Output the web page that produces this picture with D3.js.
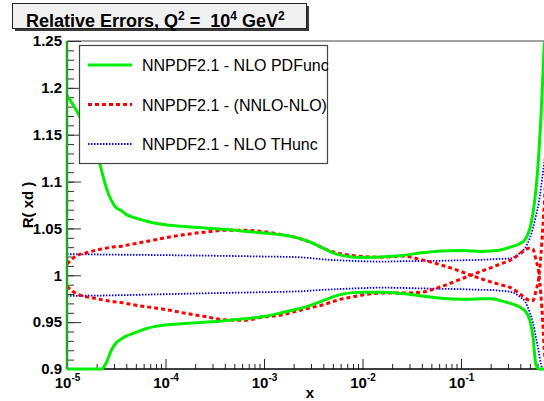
<!DOCTYPE html>
<html>
<head>
<meta charset="utf-8">
<script src="https://cdn.jsdelivr.net/npm/d3@7"></script>
<style>
  html, body { margin: 0; padding: 0; background: #fff; }
  svg { display: block; }
  text { font-family: "Liberation Sans", Arial, Helvetica, sans-serif; }
</style>
</head>
<body>
<svg id="chart" width="544" height="401"></svg>
<script>
// ---------------- data ----------------
const xs = [1.0e-5, 1.26e-5, 1.58e-5, 2.0e-5, 2.24e-5, 2.51e-5, 2.82e-5, 3.16e-5, 3.55e-5, 3.98e-5,
            5.01e-5, 6.31e-5, 7.94e-5, 1e-4, 1.58e-4, 2.51e-4, 3.98e-4, 6.31e-4, 1e-3, 1.58e-3,
            2.0e-3, 2.51e-3, 3.16e-3, 3.98e-3, 5.01e-3, 6.31e-3, 7.94e-3, 1e-2, 1.58e-2, 2.51e-2,
            3.98e-2, 6.31e-2, 0.1, 0.126, 0.158, 0.2, 0.251, 0.316, 0.398, 0.447,
            0.501, 0.537, 0.575, 0.617, 0.646, 0.676, 0.708, 0.759, 0.832];

const pdfUp = [1.192, 1.175, 1.155, 1.132, 1.112, 1.093, 1.080, 1.072, 1.069, 1.065,
               1.061, 1.058, 1.0555, 1.054, 1.052, 1.0505, 1.049, 1.047, 1.045, 1.043,
               1.041, 1.038, 1.034, 1.029, 1.024, 1.021, 1.0195, 1.019, 1.0195, 1.021,
               1.024, 1.026, 1.0265, 1.026, 1.0255, 1.026, 1.027, 1.030, 1.034, 1.038,
               1.050, 1.066, 1.090, 1.130, 1.165, 1.210, 1.255, 1.33, 1.45];
const pdfDn = [0.808, 0.825, 0.845, 0.868, 0.888, 0.907, 0.920, 0.928, 0.932, 0.935,
               0.939, 0.943, 0.9455, 0.947, 0.9485, 0.950, 0.9515, 0.9535, 0.956, 0.9605,
               0.963, 0.9655, 0.969, 0.973, 0.977, 0.980, 0.9815, 0.982, 0.982, 0.9805,
               0.978, 0.9755, 0.9745, 0.9745, 0.975, 0.975, 0.973, 0.970, 0.966, 0.962,
               0.952, 0.935, 0.905, 0.870, 0.835, 0.79, 0.745, 0.67, 0.55];

const nnloUp = [1.012, 1.021, 1.024, 1.027, 1.028, 1.029, 1.030, 1.0305, 1.031, 1.032,
                1.034, 1.036, 1.038, 1.040, 1.0435, 1.046, 1.048, 1.048, 1.0465, 1.043,
                1.041, 1.038, 1.034, 1.029, 1.025, 1.0225, 1.021, 1.020, 1.0192, 1.0205,
                1.0165, 1.011, 1.004, 1.000, 0.9965, 0.993, 0.990, 0.987, 0.980, 0.976,
                0.973, 0.973, 0.983, 0.998, 1.020, 1.050, 1.085, 1.14, 1.22];
const nnloDn = [0.988, 0.980, 0.977, 0.975, 0.974, 0.973, 0.972, 0.9715, 0.971, 0.970,
                0.968, 0.9665, 0.965, 0.9635, 0.9595, 0.956, 0.9525, 0.952, 0.9555, 0.958,
                0.961, 0.9635, 0.966, 0.9685, 0.972, 0.975, 0.977, 0.979, 0.981, 0.981,
                0.982, 0.988, 0.996, 1.000, 1.004, 1.008, 1.012, 1.016, 1.023, 1.027,
                1.029, 1.028, 1.017, 1.002, 0.980, 0.950, 0.915, 0.86, 0.78];

const thUp = [1.0225, 1.0224, 1.0223, 1.0222, 1.0221, 1.0221, 1.022, 1.022, 1.0219, 1.0219,
              1.0218, 1.0217, 1.0216, 1.0215, 1.0212, 1.021, 1.0207, 1.0204, 1.020, 1.0197,
              1.0195, 1.019, 1.018, 1.017, 1.0163, 1.0158, 1.0153, 1.015, 1.0146, 1.015,
              1.0153, 1.0155, 1.016, 1.0162, 1.0165, 1.017, 1.0175, 1.018, 1.024, 1.029,
              1.040, 1.050, 1.063, 1.078, 1.092, 1.108, 1.125, 1.16, 1.22];
const thDn = [0.978, 0.9781, 0.9782, 0.9783, 0.9784, 0.9785, 0.9786, 0.9787, 0.9788, 0.9789,
              0.9791, 0.9794, 0.9796, 0.9798, 0.9803, 0.9808, 0.9812, 0.9816, 0.982, 0.9824,
              0.9827, 0.983, 0.9838, 0.9845, 0.985, 0.9855, 0.9859, 0.9863, 0.9868, 0.9865,
              0.986, 0.9856, 0.9852, 0.9848, 0.9845, 0.9843, 0.9835, 0.9825, 0.977, 0.972,
              0.960, 0.950, 0.934, 0.918, 0.906, 0.892, 0.876, 0.84, 0.78];

const yMajor = [0.9, 0.95, 1.0, 1.05, 1.1, 1.15, 1.2, 1.25];
const yMajorLabels = ["0.9", "0.95", "1", "1.05", "1.1", "1.15", "1.2", "1.25"];
const xDecades = [1e-5, 1e-4, 1e-3, 1e-2, 1e-1];
const xDecadeExps = ["-5", "-4", "-3", "-2", "-1"];

const legendLabels = ["NNPDF2.1 - NLO PDFunc", "NNPDF2.1 - (NNLO-NLO)", "NNPDF2.1 - NLO THunc"];
const titleParts = [["Relative Errors, Q", false], ["2", true], [" =  10", false], ["4", true], [" GeV", false], ["2", true]];

// ---------------- drawing ----------------
const svg = d3.select("#chart");
const L = 67, R = 559.5, T = 41, B = 369;

const x = d3.scaleLog().domain([1e-5, 1]).range([L, R]).clamp(true);
const y = d3.scaleLinear().domain([0.9, 1.25]).range([B, T]).clamp(true);

// title box
svg.append("rect").attr("x", 15).attr("y", 6).attr("width", 294).attr("height", 25).attr("fill", "#3a3a3a");
svg.append("rect").attr("x", 12.5).attr("y", 3.5).attr("width", 294).attr("height", 25)
   .attr("fill", "#f0f0f0").attr("stroke", "#222").attr("stroke-width", 1);
const title = svg.append("text").attr("x", 26).attr("y", 26.5).attr("font-size", 18)
   .attr("font-weight", "bold").attr("fill", "#000").attr("xml:space", "preserve");
let prevSup = false;
titleParts.forEach(([t, sup]) => {
  const ts = title.append("tspan").text(t);
  if (sup) { ts.attr("font-size", 12).attr("dy", prevSup ? 0 : -7); }
  else { ts.attr("dy", prevSup ? 7 : 0); }
  prevSup = sup;
});

// frame top
svg.append("line").attr("x1", L).attr("x2", 560).attr("y1", T).attr("y2", T).attr("stroke", "#444").attr("stroke-width", 1.2);

// y axis minor + major ticks
const yMinor = d3.range(0.9, 1.2501, 0.01).map(v => +v.toFixed(2));
svg.append("g").attr("transform", `translate(${L},0)`)
   .call(d3.axisLeft(y).tickValues(yMinor).tickSize(-7).tickFormat(""))
   .call(g => g.select(".domain").remove())
   .call(g => g.selectAll("line").attr("stroke", "#333"));
const yAx = svg.append("g").attr("transform", `translate(${L},0)`)
   .call(d3.axisLeft(y).tickValues(yMajor).tickSize(-14).tickPadding(5)
         .tickFormat((d, i) => yMajorLabels[i]))
   .call(g => g.select(".domain").remove());
yAx.selectAll("line").attr("stroke", "#333");
yAx.selectAll("text").attr("font-size", 15).attr("font-weight", "bold").attr("fill", "#000")
   .attr("font-family", '"Liberation Sans", Arial, sans-serif');

// x axis minor + major ticks
const xMinor = [];
[1e-5, 1e-4, 1e-3, 1e-2, 1e-1].forEach(d => { for (let k = 2; k <= 9; k++) xMinor.push(+(d * k).toPrecision(3)); });
svg.append("g").attr("transform", `translate(0,${B})`)
   .call(d3.axisBottom(x).tickValues(xMinor).tickSize(-5).tickFormat(""))
   .call(g => g.select(".domain").remove())
   .call(g => g.selectAll("line").attr("stroke", "#222"));
const xAx = svg.append("g").attr("transform", `translate(0,${B})`)
   .call(d3.axisBottom(x).tickValues(xDecades).tickSize(-10).tickFormat(""))
   .call(g => g.select(".domain").remove());
xAx.selectAll("line").attr("stroke", "#222");
xAx.selectAll(".tick").each(function(d, i) {
  const t = d3.select(this).append("text").attr("y", 19).attr("text-anchor", "middle")
     .attr("font-size", 15).attr("font-weight", "bold").attr("fill", "#000")
     .attr("font-family", '"Liberation Sans", Arial, sans-serif');
  t.append("tspan").text("10");
  t.append("tspan").attr("font-size", 10).attr("dy", -7).text(xDecadeExps[i]);
});

// bottom axis line
svg.append("line").attr("x1", L).attr("x2", 560).attr("y1", B).attr("y2", B).attr("stroke", "#000").attr("stroke-width", 1.5);

// axis titles
svg.append("text").attr("x", 310).attr("y", 398).attr("text-anchor", "middle")
   .attr("font-size", 15).attr("font-weight", "bold").text("x");
svg.append("text").attr("transform", "translate(33,205) rotate(-90)").attr("text-anchor", "middle")
   .attr("font-size", 15).attr("font-weight", "bold").text("R( xd )");

// curves
const series = [
  { up: pdfUp, dn: pdfDn, color: "#00ee00", width: 3, dash: null },
  { up: nnloUp, dn: nnloDn, color: "#ff0000", width: 3, dash: "4,3" },
  { up: thUp, dn: thDn, color: "#0000ff", width: 1.8, dash: "1.5,1.5" }
];
const clip = svg.append("defs").append("clipPath").attr("id", "plotclip");
clip.append("rect").attr("x", L - 3).attr("y", T - 2).attr("width", R - L + 5).attr("height", B - T + 4);
const plot = svg.append("g").attr("clip-path", "url(#plotclip)");
const line = d3.line().x(d => x(d[0])).y(d => y(d[1])).curve(d3.curveMonotoneX);

// left frame (overdrawn green in reference)
svg.append("line").attr("x1", L).attr("x2", L).attr("y1", T).attr("y2", B).attr("stroke", "#22a322").attr("stroke-width", 2.4);

series.slice().reverse().forEach(s => {
  [s.up, s.dn].forEach(arr => {
    plot.append("path").datum(xs.map((xv, i) => [xv, arr[i]]))
      .attr("d", line).attr("fill", "none").attr("stroke", s.color)
      .attr("stroke-width", s.width).attr("stroke-dasharray", s.dash);
  });
});

// legend
const lg = svg.append("g");
lg.append("rect").attr("x", 79.5).attr("y", 45.5).attr("width", 248).attr("height", 118)
  .attr("fill", "#fff").attr("stroke", "#444").attr("stroke-width", 1.2);
const rows = [65, 104.5, 144];
series.forEach((s, i) => {
  lg.append("line").attr("x1", 88).attr("x2", 132).attr("y1", rows[i]).attr("y2", rows[i])
    .attr("stroke", s.color).attr("stroke-width", s.width).attr("stroke-dasharray", s.dash);
  lg.append("text").attr("x", 142).attr("y", rows[i] + 6).attr("font-size", 16).attr("fill", "#000")
    .text(legendLabels[i]);
});
</script>
</body>
</html>
